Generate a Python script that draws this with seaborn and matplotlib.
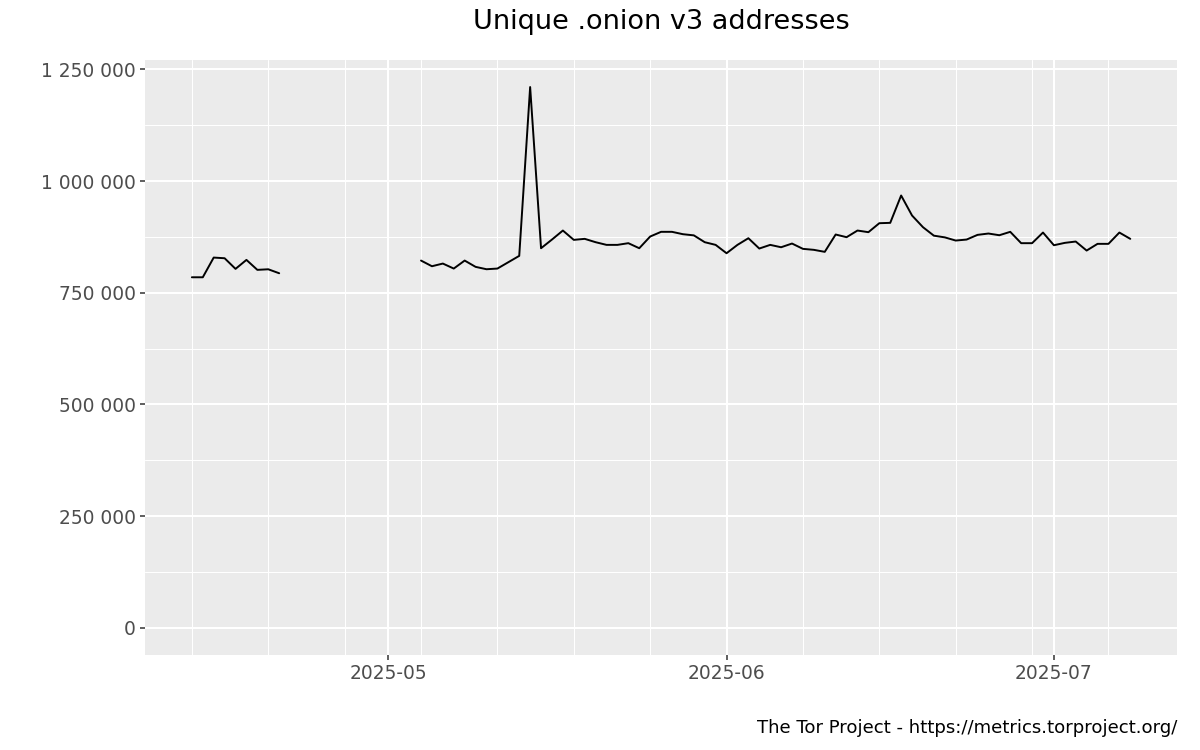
import numpy as np
import pandas as pd
import matplotlib
matplotlib.use("Agg")
import matplotlib.pyplot as plt
import matplotlib.dates as mdates
import matplotlib.ticker as mticker
import seaborn as sns

# Daily unique .onion v3 addresses, two runs of data with a gap in between
april_start = "2025-04-13"
april_values = [784700, 784700, 828800, 827300, 803500, 823600, 801300, 802600, 793700]

may_start = "2025-05-04"
may_values = [
    822100, 809400, 815400, 804200, 822100, 808000, 802700, 804200, 818400, 832600,
    1210400, 849700, 869100, 889300, 868400, 870700, 863200, 857200, 857200, 861000,
    849700, 875900, 886400, 886400, 881100, 878500, 863200, 857200, 838500, 857200,
    872100, 849000, 857200, 851900, 860200, 848300, 846100, 841600, 880400, 874400,
    889300, 885600, 905700, 906500, 967700, 922900, 896800, 877800, 874000, 866900,
    869100, 879600, 882600, 878800, 886400, 861000, 861000, 884800, 856400, 861700,
    864700, 844500, 859500, 859500, 884800, 870700,
]

title = "Unique .onion v3 addresses"
caption = "The Tor Project - https://metrics.torproject.org/"

# Build a long table, one unit per contiguous run so the gap stays open
seg1 = pd.DataFrame({"date": pd.date_range(april_start, periods=len(april_values), freq="D"),
                     "onions": april_values, "segment": 1})
seg2 = pd.DataFrame({"date": pd.date_range(may_start, periods=len(may_values), freq="D"),
                     "onions": may_values, "segment": 2})
df = pd.concat([seg1, seg2], ignore_index=True)

sns.set_theme(style="darkgrid")
plt.rcParams["font.family"] = ["DejaVu Sans"]

fig, ax = plt.subplots(figsize=(12, 7.5), dpi=100)
fig.subplots_adjust(left=0.1208, right=0.981, top=0.92, bottom=0.1267)

sns.lineplot(data=df, x="date", y="onions", units="segment", estimator=None,
             color="black", linewidth=1.4, ax=ax)

# ggplot-like look
ax.set_facecolor("#EBEBEB")
for s in ax.spines.values():
    s.set_visible(False)

# limits with 5% expansion, y including zero
d0, d1 = df["date"].min(), df["date"].max()
span = d1 - d0
ax.set_xlim(d0 - span * 0.05, d1 + span * 0.05)
ymax = df["onions"].max()
ax.set_ylim(-0.05 * ymax, ymax * 1.05)

ax.xaxis.set_major_locator(mdates.MonthLocator())
ax.xaxis.set_major_formatter(mdates.DateFormatter("%Y-%m"))
ax.xaxis.set_minor_locator(mdates.WeekdayLocator(byweekday=mdates.SU))
ax.yaxis.set_major_locator(mticker.MultipleLocator(250000))
ax.yaxis.set_minor_locator(mticker.MultipleLocator(125000))
ax.yaxis.set_major_formatter(mticker.FuncFormatter(lambda v, p: f"{v:,.0f}".replace(",", " ")))

ax.grid(which="major", color="white", linewidth=1.5)
ax.grid(which="minor", color="white", linewidth=0.75)
ax.set_axisbelow(True)

ax.tick_params(which="major", direction="out", length=3.4, width=1.1, color="#333333",
               labelcolor="#4D4D4D", labelsize=13.4, pad=3.2, bottom=True, left=True)
ax.tick_params(which="minor", length=0)

ax.set_xlabel("")
ax.set_ylabel("")

fig.text(0.551, 1 - 22 / 750, title, ha="center", va="center", fontsize=19.5, color="black")
fig.text(0.981, 1 - 728 / 750, caption, ha="right", va="center", fontsize=13.1, color="black")

fig.savefig("out.png", dpi=100)
